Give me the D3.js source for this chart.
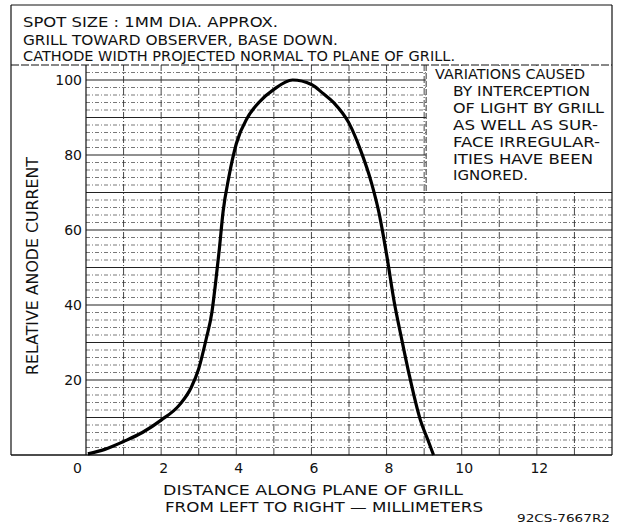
<!DOCTYPE html>
<html><head><meta charset="utf-8">
<script src="https://cdn.jsdelivr.net/npm/d3@7"></script>
<style>
body{margin:0;background:#fff}
svg{display:block}
text{font-family:"DejaVu Sans",sans-serif;fill:#111}
</style>
</head><body>
<svg id="c" width="618" height="529"></svg>
<script>
// ---- data ----
const distanceMM = [0.05,0.5,1.0,1.5,2.0,2.5,2.8,3.0,3.2,3.35,3.45,3.55,3.65,3.8,4.0,4.3,4.6,5.0,5.5,6.0,6.3,6.6,7.0,7.3,7.6,7.8,8.0,8.2,8.4,8.6,8.9,9.1,9.25];
const relCurrent = [0.3,1.5,3.6,6,9.3,13.5,18,23,31,38,46,55,65,74,83,90,94,97.5,100,98.8,96.5,93.9,88.5,81.5,72.5,64.5,53.5,41,31,21.5,9.3,4,0];
const xTickValues = [0,2,4,6,8,10,12];
const yTickValues = [20,40,60,80,100];
const topNotes = ["SPOT SIZE : 1MM DIA. APPROX.","GRILL TOWARD OBSERVER, BASE DOWN.","CATHODE WIDTH PROJECTED NORMAL TO PLANE OF GRILL."];
const sideNotes = ["VARIATIONS CAUSED","BY INTERCEPTION","OF LIGHT BY GRILL","AS WELL AS SUR-","FACE IRREGULAR-","ITIES HAVE BEEN","IGNORED."];
const xTitleLines = ["DISTANCE ALONG PLANE OF GRILL","FROM LEFT TO RIGHT \u2014 MILLIMETERS"];
const yTitle = "RELATIVE ANODE CURRENT";
const figureId = "92CS-7667R2";

// ---- layout ----
const svg = d3.select("#c");
const x = d3.scaleLinear().domain([0,14]).range([86,612]);
const y = d3.scaleLinear().domain([0,104]).range([455,65]);

// grid
const g = svg.append("g");
d3.range(2,104,2).forEach(v=>{
  const major = v%10===0;
  g.append("line").attr("x1",x(0)).attr("x2",x(14)).attr("y1",y(v)).attr("y2",y(v))
   .attr("stroke",major?"#222":"#555").attr("stroke-width",major?1.1:0.8)
   .attr("stroke-dasharray",major?null:"4,2,1,2");
});
d3.range(1,14,1).forEach(v=>{
  g.append("line").attr("x1",x(v)).attr("x2",x(v)).attr("y1",y(0)).attr("y2",y(104))
   .attr("stroke","#333").attr("stroke-width",0.9).attr("stroke-dasharray","7,2,1,2");
});

// note box covering grid at upper right
svg.append("rect").attr("x",x(9)+2).attr("y",y(104)+1).attr("width",x(14)-x(9)-2).attr("height",y(70)-y(104)-1.5).attr("fill","#fff");
svg.append("line").attr("x1",x(9)+2).attr("x2",x(9)+2).attr("y1",y(104)).attr("y2",y(70))
  .attr("stroke","#333").attr("stroke-width",1).attr("stroke-dasharray","6,2");

// frame
const fr = svg.append("g").attr("fill","none").attr("stroke","#111");
fr.append("line").attr("x1",11).attr("x2",612).attr("y1",5).attr("y2",5).attr("stroke-width",1);
fr.append("line").attr("x1",11).attr("x2",11).attr("y1",5).attr("y2",455).attr("stroke-width",1.2);
fr.append("line").attr("x1",612).attr("x2",612).attr("y1",5).attr("y2",455).attr("stroke-width",1.2);
fr.append("line").attr("x1",11).attr("x2",612).attr("y1",455).attr("y2",455).attr("stroke-width",1.5);
fr.append("line").attr("x1",11).attr("x2",612).attr("y1",65).attr("y2",65).attr("stroke-width",1).attr("stroke-dasharray","8,2");
fr.append("line").attr("x1",x(0)).attr("x2",x(0)).attr("y1",65).attr("y2",455).attr("stroke-width",1.2);

// curve
const line = d3.line().x((d,i)=>x(distanceMM[i])).y(d=>y(d)).curve(d3.curveMonotoneX);
svg.append("path").datum(relCurrent).attr("d",line).attr("fill","none").attr("stroke","#000").attr("stroke-width",3.2).attr("stroke-linejoin","round");

// axes
const xa = svg.append("g").attr("transform","translate(0,455)")
  .call(d3.axisBottom(x).tickValues(xTickValues).tickSize(0).tickPadding(0).tickFormat(d3.format("d")));
xa.select(".domain").remove();
xa.selectAll("text").attr("font-size",14).attr("y",18).attr("dy",0)
  .attr("dx",d=>d===0?-9:2).style("font-family","DejaVu Sans");
const ya = svg.append("g").attr("transform","translate(86,0)")
  .call(d3.axisLeft(y).tickValues(yTickValues).tickSize(0).tickPadding(4).tickFormat(d3.format("d")));
ya.select(".domain").remove();
ya.selectAll("text").attr("font-size",14).style("font-family","DejaVu Sans");

// texts
function fitText(t,x0,yb,w,size){
  svg.append("text").attr("x",x0).attr("y",yb).attr("font-size",size)
    .attr("textLength",w).attr("lengthAdjust","spacingAndGlyphs").text(t);
}
const topBase=[27,45,61], topW=[255,315,432];
topNotes.forEach((t,i)=>fitText(t,23,topBase[i],topW[i],13.5));
const sideX=[435,453,453,453,453,453,453], sideW=[150,137,151,145,147,140,75];
sideNotes.forEach((t,i)=>fitText(t,sideX[i],79+i*16.9,sideW[i],14.5));
fitText(xTitleLines[0],163,495,300,13.5);
fitText(xTitleLines[1],165,512,318,13.5);
svg.append("text").attr("transform","translate(38,375) rotate(-90)").attr("font-size",15)
  .attr("textLength",218).attr("lengthAdjust","spacingAndGlyphs").text(yTitle);
fitText(figureId,517,522,93,11);
</script>
</body></html>
